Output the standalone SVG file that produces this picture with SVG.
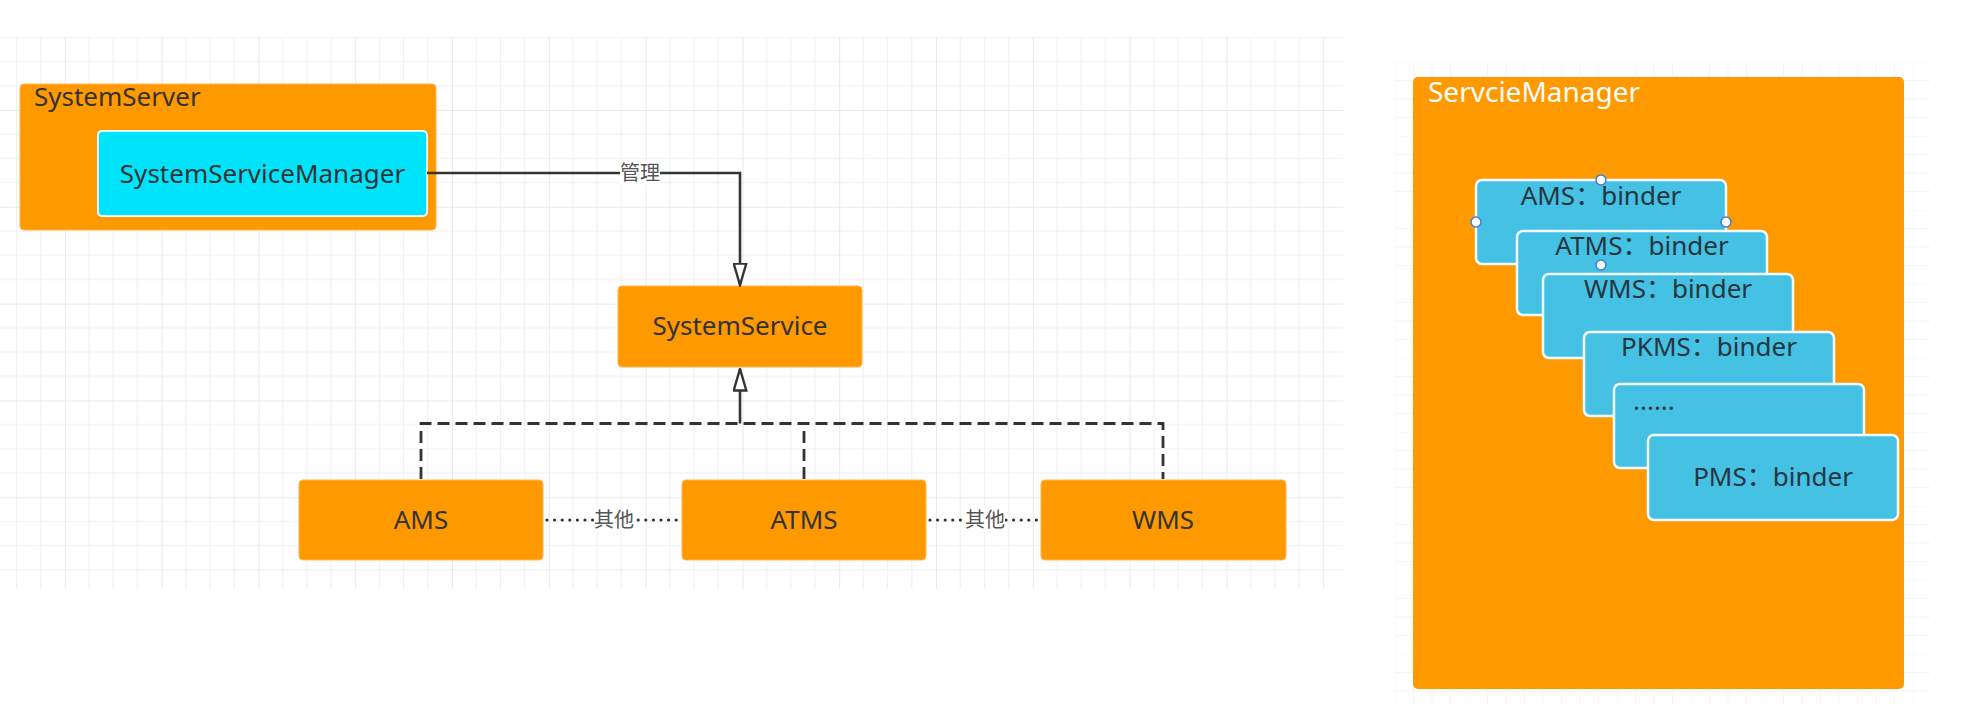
<svg xmlns="http://www.w3.org/2000/svg" width="1980" height="716" viewBox="0 0 1980 716">
<defs>
<style>
.box{fill:#FE9900;stroke:#FFB54D;stroke-width:1}
.lbl{font-family:"Noto Sans","Noto Sans CJK SC",sans-serif;font-size:26px;fill:#333;text-anchor:middle}
.title{font-family:"Noto Sans","Noto Sans CJK SC",sans-serif;font-size:26px;fill:#333}
.binder{fill:#45C1E3;stroke:#F4FBFF;stroke-width:2.5}
.btxt{font-family:"Noto Sans","Noto Sans CJK SC",sans-serif;font-size:26px;fill:#243640;text-anchor:middle}
.elbl{font-family:"Noto Sans CJK SC","Noto Sans",sans-serif;font-size:20px;fill:#555;text-anchor:middle}
.solid{fill:none;stroke:#333;stroke-width:2.6}
.dash{fill:none;stroke:#333;stroke-width:2.8;stroke-dasharray:12 6}
.dot{fill:none;stroke:#333;stroke-width:3.2;stroke-linecap:round;stroke-dasharray:0 7.6}
.handle{fill:#fff;stroke:#3D7FD6;stroke-width:1.5}
</style>
<pattern id="gridL" x="-32" y="13.2" width="96.8" height="96.8" patternUnits="userSpaceOnUse">
<path d="M24.2,0V96.8M48.4,0V96.8M72.6,0V96.8M0,24.2H96.8M0,48.4H96.8M0,72.6H96.8" stroke="#F0F0F0" stroke-width="1.2"/>
<path d="M0,0V96.8M0,0H96.8" stroke="#E4E4E4" stroke-width="1.6"/>
</pattern>
<pattern id="gridR" x="1395" y="62" width="74" height="74" patternUnits="userSpaceOnUse">
<path d="M0,0V74M0,0H74M0,18.5H74M0,37H74M0,55.5H74M18.5,0V74M37,0V74M55.5,0V74" stroke="#F5F5F5" stroke-width="1"/>
</pattern>
<marker id="tri" viewBox="0 0 24 15" refX="22.5" refY="7.5" markerWidth="24" markerHeight="15" markerUnits="userSpaceOnUse" orient="auto">
<path d="M1,1.2 L22.5,7.5 L1,13.8 Z" fill="#fff" stroke="#333" stroke-width="2.4" stroke-linejoin="miter"/>
</marker>
</defs>
<rect width="1980" height="716" fill="#fff"/>
<rect x="0" y="37" width="1343" height="552" fill="url(#gridL)"/>
<rect x="1395" y="62" width="535" height="643" fill="url(#gridR)"/>

<g id="SystemServer">
<rect class="box" x="20" y="84" width="416" height="146" rx="4"/>
<text class="title" x="34" y="106">SystemServer</text>
</g>
<g id="SystemServiceManager">
<rect x="98" y="131" width="329" height="85" rx="4" fill="#00E4FB" stroke="#E6FDFF" stroke-width="2"/>
<text class="lbl" x="262.5" y="183">SystemServiceManager</text>
</g>
<g id="SystemService">
<rect class="box" x="618" y="286" width="244" height="81" rx="4"/>
<text class="lbl" x="740" y="335">SystemService</text>
</g>
<g id="AMS">
<rect class="box" x="299" y="480" width="244" height="80" rx="4"/>
<text class="lbl" x="421" y="529">AMS</text>
</g>
<g id="ATMS">
<rect class="box" x="682" y="480" width="244" height="80" rx="4"/>
<text class="lbl" x="804" y="529">ATMS</text>
</g>
<g id="WMS">
<rect class="box" x="1041" y="480" width="245" height="80" rx="4"/>
<text class="lbl" x="1163" y="529">WMS</text>
</g>

<g id="connectors">
<path class="solid" d="M427,173H740V285" marker-end="url(#tri)"/>
<rect x="620" y="161" width="40" height="24" fill="#fff"/>
<text class="elbl" x="640" y="180">管理</text>
<path class="dash" d="M421,479V423.5H1163V479"/>
<path class="dash" d="M804,479V423.5"/>
<path class="solid" d="M740,423.5V369" marker-end="url(#tri)"/>
<path class="dot" d="M547,520H680"/>
<rect x="594" y="508" width="40" height="24" fill="#fff"/>
<text class="elbl" x="614" y="527">其他</text>
<path class="dot" d="M930,520H1039"/>
<rect x="965" y="508" width="40" height="24" fill="#fff"/>
<text class="elbl" x="985" y="527">其他</text>
</g>

<g id="ServcieManager">
<rect x="1413" y="77" width="491" height="612" rx="5" fill="#FE9900"/>
<text x="1428" y="102" font-family="Noto Sans, Noto Sans CJK SC, sans-serif" font-size="28" fill="#fff">ServcieManager</text>
</g>
<g id="AMS-binder">
<rect class="binder" x="1476" y="180" width="250" height="84" rx="6"/>
<text class="btxt" x="1601" y="205">AMS：binder</text>
</g>
<g id="ATMS-binder">
<rect class="binder" x="1517" y="231" width="250" height="84" rx="6"/>
<text class="btxt" x="1642" y="255">ATMS：binder</text>
</g>
<g id="WMS-binder">
<rect class="binder" x="1543" y="274" width="250" height="84" rx="6"/>
<text class="btxt" x="1668" y="298">WMS：binder</text>
</g>
<g id="PKMS-binder">
<rect class="binder" x="1584" y="332" width="250" height="84" rx="6"/>
<text class="btxt" x="1709" y="356">PKMS：binder</text>
</g>
<g id="more-binder">
<rect class="binder" x="1614" y="384" width="250" height="84" rx="6"/>
<text class="btxt" x="1633" y="410" style="text-anchor:start">......</text>
</g>
<g id="PMS-binder">
<rect class="binder" x="1648" y="435" width="250" height="85" rx="6"/>
<text class="btxt" x="1773" y="486">PMS：binder</text>
</g>
<g id="selection-handles">
<circle class="handle" cx="1601" cy="180" r="5"/>
<circle class="handle" cx="1476" cy="222" r="5"/>
<circle class="handle" cx="1726" cy="222" r="5"/>
<circle class="handle" cx="1601" cy="265" r="5"/>
</g>
</svg>
